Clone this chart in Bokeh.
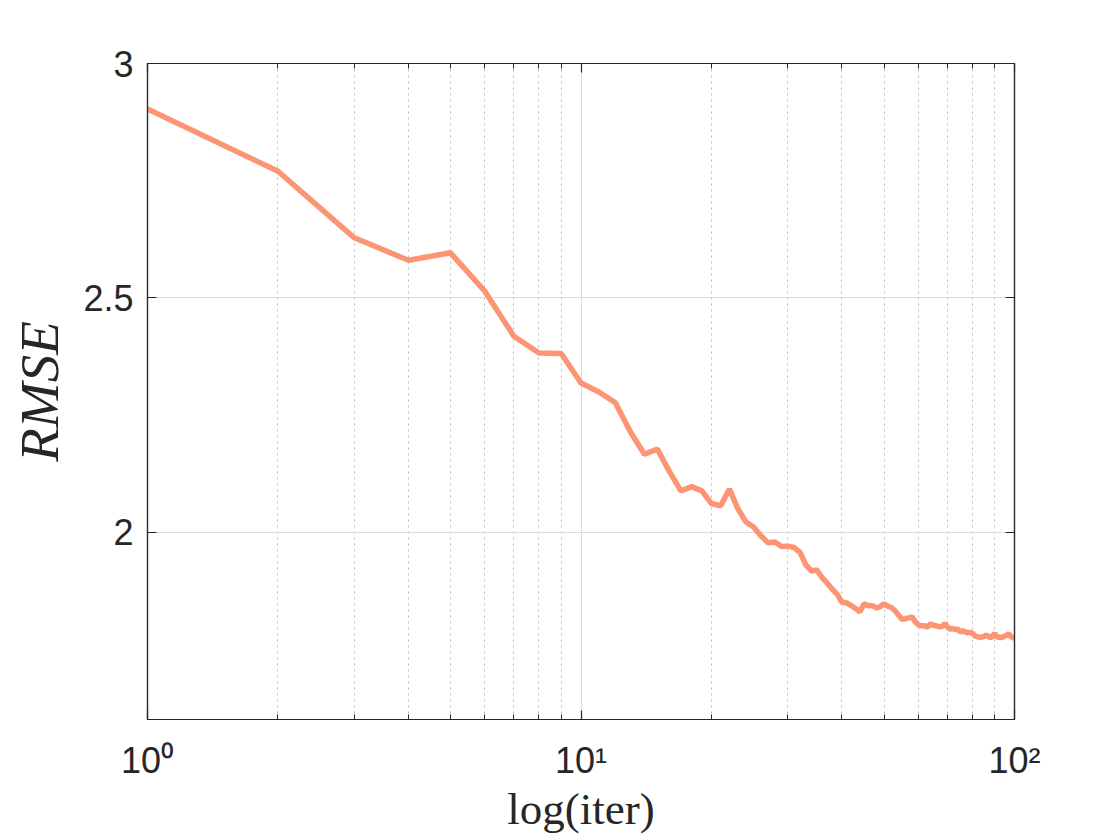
from bokeh.plotting import figure
from bokeh.models import FixedTicker, LinearAxis, LogAxis, Range1d
from bokeh.embed import file_html
from bokeh.resources import INLINE

iters = list(range(1, 101))
rmse = [
    2.903, 2.770, 2.628, 2.580, 2.596, 2.514, 2.418, 2.382, 2.381, 2.318,
    2.299, 2.276, 2.214, 2.166, 2.177, 2.129, 2.088, 2.097, 2.088, 2.061,
    2.056, 2.092, 2.050, 2.022, 2.011, 1.992, 1.977, 1.979, 1.969, 1.970,
    1.967, 1.957, 1.930, 1.917, 1.919, 1.903, 1.891, 1.878, 1.867, 1.850,
    1.849, 1.843, 1.837, 1.830, 1.847, 1.843, 1.843, 1.838, 1.841, 1.847,
    1.842, 1.839, 1.832, 1.823, 1.814, 1.815, 1.817, 1.819, 1.809, 1.802,
    1.800, 1.800, 1.797, 1.804, 1.801, 1.800, 1.798, 1.798, 1.805, 1.798,
    1.793, 1.794, 1.792, 1.793, 1.787, 1.789, 1.787, 1.785, 1.786, 1.784,
    1.778, 1.777, 1.775, 1.776, 1.777, 1.780, 1.778, 1.774, 1.778, 1.784,
    1.776, 1.776, 1.775, 1.776, 1.778, 1.780, 1.783, 1.778, 1.775, 1.773,
]
x_major = [1, 10, 100]
x_minor = [2, 3, 4, 5, 6, 7, 8, 9, 20, 30, 40, 50, 60, 70, 80, 90]
x_tick_labels = {1: "10\u2070", 10: "10\u00b9", 100: "10\u00b2"}
y_ticks = [2, 2.5, 3]
y_tick_labels = {2: "2", 2.5: "2.5", 3: "3"}

AX = "#262626"
TICK_FONT = "Liberation Sans"

p = figure(frame_width=867, frame_height=656, x_axis_type="log",
           x_range=Range1d(1, 100), y_range=Range1d(1.6, 3),
           output_backend="svg", toolbar_location=None,
           min_border_left=147, min_border_right=98,
           min_border_top=63, min_border_bottom=100)
p.outline_line_color = AX
p.outline_line_width = 1.2
p.background_fill_color = "white"
p.border_fill_color = "white"

# grids
xg = p.xgrid[0]
xg.ticker = FixedTicker(ticks=x_major, minor_ticks=x_minor)
xg.grid_line_color = "#dcdcdc"
xg.grid_line_width = 1
xg.minor_grid_line_color = "#b8b8b8"
xg.minor_grid_line_dash = "2 4"
xg.minor_grid_line_width = 1
yg = p.ygrid[0]
yg.ticker = FixedTicker(ticks=y_ticks)
yg.grid_line_color = "#dcdcdc"
yg.grid_line_width = 1

def style_axis(ax, labels=True):
    ax.axis_line_color = AX
    ax.axis_line_width = 1.2
    ax.major_tick_line_color = AX
    ax.minor_tick_line_color = AX
    ax.major_tick_line_width = 1.2
    ax.minor_tick_line_width = 1
    ax.major_tick_in = 9
    ax.major_tick_out = 0
    ax.minor_tick_in = 5
    ax.minor_tick_out = 0
    ax.major_label_text_font = TICK_FONT
    ax.major_label_text_font_size = "36px"
    ax.major_label_text_color = AX
    if not labels:
        ax.major_label_text_font_size = "0px"
        ax.major_label_standoff = 0

# bottom axis
xa = p.xaxis[0]
xa.ticker = FixedTicker(ticks=x_major, minor_ticks=x_minor)
xa.major_label_overrides = x_tick_labels
style_axis(xa)
xa.major_label_standoff = 20
xa.axis_label = "log(iter)"
xa.axis_label_text_font = "Liberation Serif"
xa.axis_label_text_font_style = "normal"
xa.axis_label_text_font_size = "45px"
xa.axis_label_text_color = AX
xa.axis_label_standoff = 0

# left axis
ya = p.yaxis[0]
ya.ticker = FixedTicker(ticks=y_ticks)
ya.major_label_overrides = y_tick_labels
style_axis(ya)
ya.major_label_standoff = 14
ya.axis_label = "RMSE"
ya.axis_label_text_font = "Liberation Serif"
ya.axis_label_text_font_style = "italic"
ya.axis_label_text_font_size = "55px"
ya.axis_label_text_color = AX
ya.axis_label_standoff = 10

# top and right box axes
ta = LogAxis(ticker=FixedTicker(ticks=x_major, minor_ticks=x_minor))
style_axis(ta, labels=False)
ta.major_label_overrides = {1: "", 10: "", 100: ""}
p.add_layout(ta, "above")
ra = LinearAxis(ticker=FixedTicker(ticks=y_ticks))
style_axis(ra, labels=False)
ra.major_label_overrides = {2: "", 2.5: "", 3: ""}
p.add_layout(ra, "right")

p.line(iters, rmse, line_color="#FC8F6C", line_width=5.5, line_alpha=0.95)

open("out.html", "w").write(file_html(p, INLINE))
